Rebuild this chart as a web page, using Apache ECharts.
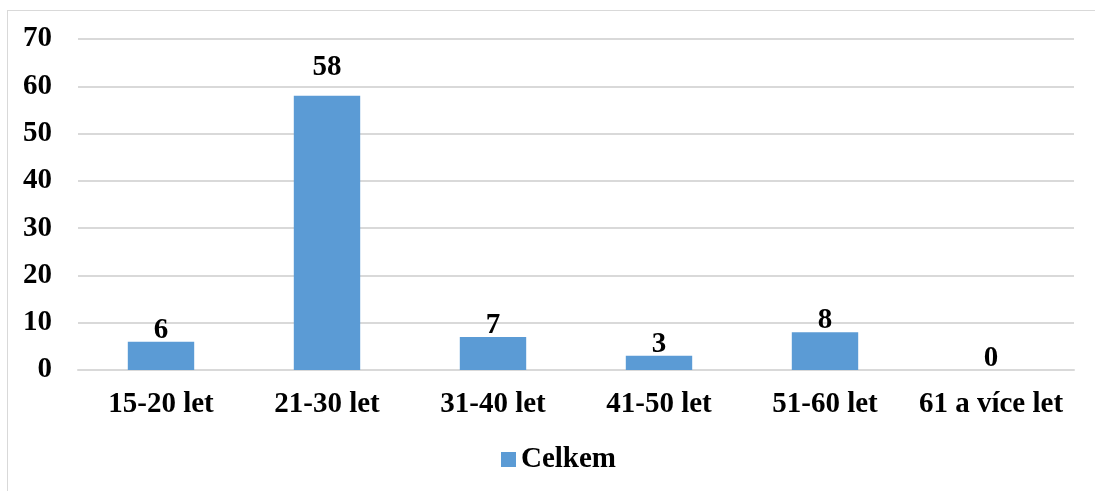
<!DOCTYPE html>
<html>
<head>
<meta charset="utf-8">
<script src="https://cdn.jsdelivr.net/npm/echarts@6/dist/echarts.min.js"></script>
<style>
  html, body { margin: 0; padding: 0; background: #fff; }
  #frame { position: absolute; left: 7px; top: 10px; width: 1100px; height: 500px; border: 1px solid #d9d9d9; }
  #chart { position: absolute; left: 0; top: 0; width: 1095px; height: 491px; }
</style>
</head>
<body>
<div id="frame"></div>
<div id="chart"></div>
<script>
const categories = ['15-20 let', '21-30 let', '31-40 let', '41-50 let', '51-60 let', '61 a více let'];
const celkem = [6, 58, 7, 3, 8, 0];
const seriesName = 'Celkem';

const font = '"Liberation Serif", "Times New Roman", serif';
const chart = echarts.init(document.getElementById('chart'));
chart.setOption({
  animation: false,
  grid: { left: 78, right: 21, top: 39, bottom: 121 },
  legend: {
    bottom: 12,
    left: 496,
    itemWidth: 15,
    itemHeight: 15,
    itemGap: 10,
    icon: 'rect',
    textStyle: { fontFamily: font, fontWeight: 'bold', fontSize: 29, color: '#000' },
    data: [seriesName]
  },
  xAxis: {
    type: 'category',
    data: categories,
    axisLine: { lineStyle: { color: '#d9d9d9', width: 2 } },
    axisTick: { show: false },
    axisLabel: { interval: 0, margin: 20, fontFamily: font, fontWeight: 'bold', fontSize: 29, color: '#000' }
  },
  yAxis: {
    type: 'value',
    min: 0,
    max: 70,
    interval: 10,
    axisLine: { show: false },
    axisTick: { show: false },
    splitLine: { lineStyle: { color: '#d9d9d9', width: 2 } },
    axisLabel: { margin: 26, fontFamily: font, fontWeight: 'bold', fontSize: 29, color: '#000' }
  },
  series: [{
    name: seriesName,
    type: 'bar',
    // the tall bar's label sits well above it in the original
    data: celkem.map(v => v > 50 ? { value: v, label: { distance: 14 } } : v),
    barWidth: '40%',
    itemStyle: { color: '#5b9bd5' },
    label: {
      show: true,
      position: 'top',
      distance: -3,
      fontFamily: font,
      fontWeight: 'bold',
      fontSize: 29,
      color: '#000'
    }
  }]
});
</script>
</body>
</html>
